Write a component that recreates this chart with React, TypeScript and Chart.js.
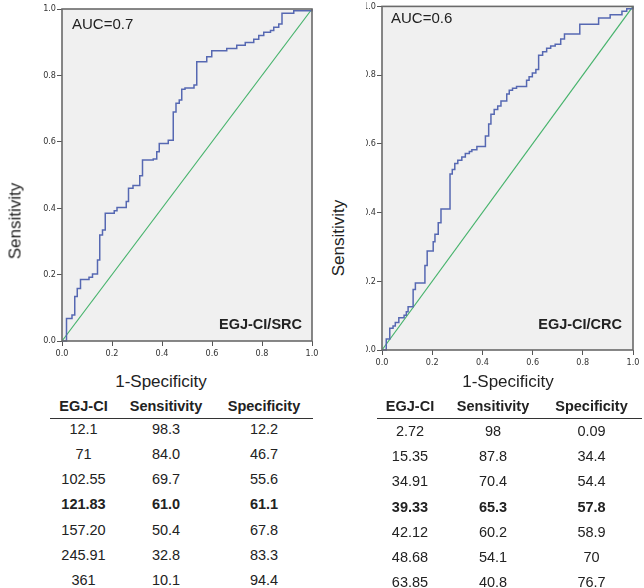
import React, { useEffect, useRef } from "react";
import { Chart, registerables } from "chart.js";

Chart.register(...registerables);

// ROC curve for EGJ-CI / SRC
const srcFpr = [0, 0.018, 0.04, 0.051, 0.061, 0.074, 0.108, 0.122, 0.142, 0.151, 0.162, 0.173, 0.209, 0.22, 0.257, 0.266, 0.284, 0.311, 0.322, 0.365, 0.379, 0.389, 0.425, 0.445, 0.456, 0.469, 0.479, 0.492, 0.528, 0.539, 0.579, 0.599, 0.659, 0.699, 0.733, 0.767, 0.787, 0.807, 0.834, 0.847, 0.867, 0.88, 0.927, 1.0];
const srcTpr = [0, 0.068, 0.078, 0.134, 0.158, 0.185, 0.192, 0.202, 0.244, 0.319, 0.334, 0.385, 0.392, 0.402, 0.42, 0.46, 0.468, 0.498, 0.545, 0.548, 0.57, 0.595, 0.605, 0.69, 0.716, 0.726, 0.758, 0.762, 0.771, 0.841, 0.856, 0.874, 0.881, 0.891, 0.899, 0.909, 0.92, 0.93, 0.935, 0.945, 0.955, 0.987, 0.995, 1.0];

// ROC curve for EGJ-CI / CRC
const crcFpr = [0, 0.017, 0.031, 0.044, 0.053, 0.067, 0.088, 0.097, 0.104, 0.124, 0.133, 0.171, 0.18, 0.204, 0.211, 0.224, 0.235, 0.271, 0.28, 0.29, 0.302, 0.318, 0.332, 0.348, 0.358, 0.378, 0.412, 0.425, 0.434, 0.447, 0.461, 0.474, 0.497, 0.507, 0.52, 0.536, 0.576, 0.586, 0.599, 0.613, 0.624, 0.64, 0.656, 0.672, 0.69, 0.712, 0.727, 0.788, 0.863, 0.909, 0.956, 0.975, 1.0];
const crcTpr = [0, 0.032, 0.063, 0.07, 0.08, 0.094, 0.101, 0.111, 0.126, 0.176, 0.195, 0.246, 0.288, 0.315, 0.337, 0.37, 0.41, 0.512, 0.525, 0.543, 0.552, 0.562, 0.572, 0.578, 0.583, 0.592, 0.623, 0.658, 0.686, 0.7, 0.71, 0.725, 0.745, 0.756, 0.762, 0.767, 0.785, 0.795, 0.806, 0.816, 0.858, 0.868, 0.878, 0.885, 0.89, 0.905, 0.92, 0.948, 0.966, 0.976, 0.986, 0.993, 1.0];

const refLine = [0, 1];
const axisTicks = [0, 0.2, 0.4, 0.6, 0.8, 1.0];

const srcAuc = "AUC=0.7";
const crcAuc = "AUC=0.6";
const srcName = "EGJ-CI/SRC";
const crcName = "EGJ-CI/CRC";
const xTitle = "1-Specificity";
const yTitle = "Sensitivity";

const tableHeaders = ["EGJ-CI", "Sensitivity", "Specificity"];
const srcCutoffs = ["12.1", "71", "102.55", "121.83", "157.20", "245.91", "361"];
const srcSens = ["98.3", "84.0", "69.7", "61.0", "50.4", "32.8", "10.1"];
const srcSpec = ["12.2", "46.7", "55.6", "61.1", "67.8", "83.3", "94.4"];
const crcCutoffs = ["2.72", "15.35", "34.91", "39.33", "42.12", "48.68", "63.85"];
const crcSens = ["98", "87.8", "70.4", "65.3", "60.2", "54.1", "40.8"];
const crcSpec = ["0.09", "34.4", "54.4", "57.8", "58.9", "70", "76.7"];
const srcBest = 3;
const crcBest = 3;

const TEXT = '"Liberation Sans", Arial, sans-serif';
const NARROW = '"Liberation Sans Narrow", "DejaVu Sans Condensed", sans-serif';

type RocProps = {
  fpr: number[];
  tpr: number[];
  auc: string;
  name: string;
  width: number;
  height: number;
  yAxisWidth: number;
  xAxisHeight: number;
  padTop: number;
  padRight: number;
  aucDx: number;
  aucDy: number;
  nameDx: number;
  nameDy: number;
  style: React.CSSProperties;
};

function RocChart(p: RocProps) {
  const ref = useRef<HTMLCanvasElement | null>(null);
  useEffect(() => {
    if (!ref.current) return;
    const decor = {
      id: "rocDecor",
      beforeDraw(chart: any) {
        const { ctx, chartArea: a } = chart;
        ctx.save();
        ctx.fillStyle = "#f0f0f0";
        ctx.fillRect(a.left, a.top, a.right - a.left, a.bottom - a.top);
        ctx.restore();
      },
      afterDraw(chart: any) {
        const { ctx, chartArea: a } = chart;
        ctx.save();
        ctx.strokeStyle = "#6a6a6a";
        ctx.lineWidth = 1.6;
        ctx.strokeRect(a.left, a.top, a.right - a.left, a.bottom - a.top);
        ctx.fillStyle = "#222";
        ctx.textBaseline = "middle";
        ctx.textAlign = "left";
        ctx.font = `15px ${TEXT}`;
        ctx.fillText(p.auc, a.left + p.aucDx, a.top + p.aucDy);
        ctx.textAlign = "right";
        ctx.font = `bold 14.5px ${TEXT}`;
        ctx.fillText(p.name, a.right - p.nameDx, a.bottom - p.nameDy);
        ctx.restore();
      },
    };
    const tickFont = { family: NARROW, size: 9 };
    const chart = new Chart(ref.current, {
      type: "line",
      data: {
        datasets: [
          {
            data: p.fpr.map((x, i) => ({ x, y: p.tpr[i] })),
            borderColor: "#5668b2",
            borderWidth: 1.5,
            pointRadius: 0,
            stepped: "before",
            fill: false,
            clip: 4,
          } as any,
          {
            data: refLine.map((v) => ({ x: v, y: v })),
            borderColor: "#46b36c",
            borderWidth: 1.2,
            pointRadius: 0,
            fill: false,
            clip: 4,
          } as any,
        ],
      },
      options: {
        animation: false,
        responsive: false,
        devicePixelRatio: 1,
        events: [],
        layout: { padding: { top: p.padTop, right: p.padRight, left: 0, bottom: 0 } },
        plugins: { legend: { display: false }, tooltip: { enabled: false }, title: { display: false } },
        scales: {
          x: {
            type: "linear",
            min: 0,
            max: 1,
            afterBuildTicks: (s: any) => {
              s.ticks = axisTicks.map((v) => ({ value: v }));
            },
            afterFit: (s: any) => {
              s.height = p.xAxisHeight;
            },
            ticks: {
              font: tickFont,
              color: "#333",
              padding: 2,
              maxRotation: 0,
              autoSkip: false,
              callback: (v: any) => Number(v).toFixed(1),
            },
            grid: { drawOnChartArea: false, drawTicks: true, tickLength: 5, color: "#555", tickWidth: 1 },
            border: { display: false },
          },
          y: {
            type: "linear",
            min: 0,
            max: 1,
            afterBuildTicks: (s: any) => {
              s.ticks = axisTicks.map((v) => ({ value: v }));
            },
            afterFit: (s: any) => {
              s.width = p.yAxisWidth;
            },
            ticks: {
              font: tickFont,
              color: "#333",
              padding: 1,
              autoSkip: false,
              callback: (v: any) => Number(v).toFixed(1),
            },
            grid: { drawOnChartArea: false, drawTicks: true, tickLength: 5, color: "#555", tickWidth: 1 },
            border: { display: false },
          },
        },
      } as any,
      plugins: [decor],
    });
    return () => chart.destroy();
  }, []);
  return (
    <canvas
      ref={ref}
      width={p.width}
      height={p.height}
      style={{ position: "absolute", width: p.width, height: p.height, ...p.style }}
    />
  );
}

type TableProps = {
  centers: number[];
  headerY: number;
  firstRowY: number;
  rowStep: number;
  cols: string[][];
  bold: number;
  lineX1: number;
  lineX2: number;
  lineY: number;
};

function StatTable(t: TableProps) {
  const cell = (text: string, cx: number, cy: number, bold: boolean, key: string) => (
    <div
      key={key}
      style={{
        position: "absolute",
        left: cx,
        top: cy,
        transform: "translate(-50%, -50%)",
        whiteSpace: "nowrap",
        fontSize: 14.5,
        lineHeight: 1,
        fontWeight: bold ? "bold" : "normal",
        color: "#222",
      }}
    >
      {text}
    </div>
  );
  const out: React.ReactNode[] = [];
  tableHeaders.forEach((h, c) => out.push(cell(h, t.centers[c], t.headerY, true, `h${c}`)));
  t.cols.forEach((col, c) =>
    col.forEach((v, r) => out.push(cell(v, t.centers[c], t.firstRowY + r * t.rowStep, r === t.bold, `c${c}r${r}`)))
  );
  out.push(
    <div
      key="line"
      style={{
        position: "absolute",
        left: t.lineX1,
        top: t.lineY - 0.75,
        width: t.lineX2 - t.lineX1,
        height: 1.5,
        background: "#333",
      }}
    />
  );
  return <>{out}</>;
}

function AxisTitle({ text, cx, cy, rotate }: { text: string; cx: number; cy: number; rotate?: boolean }) {
  return (
    <div
      style={{
        position: "absolute",
        left: cx,
        top: cy,
        transform: `translate(-50%, -50%)${rotate ? " rotate(-90deg)" : ""}`,
        whiteSpace: "nowrap",
        fontSize: 17,
        lineHeight: 1,
        color: "#222",
      }}
    >
      {text}
    </div>
  );
}

export default function App() {
  return (
    <div
      style={{
        position: "absolute",
        left: 0,
        top: 0,
        width: 644,
        height: 588,
        background: "#fff",
        overflow: "hidden",
        fontFamily: TEXT,
      }}
    >
      <RocChart
        fpr={srcFpr}
        tpr={srcTpr}
        auc={srcAuc}
        name={srcName}
        width={322}
        height={368}
        yAxisWidth={62}
        xAxisHeight={27}
        padTop={9}
        padRight={10}
        aucDx={10}
        aucDy={16}
        nameDx={10}
        nameDy={16}
        style={{ left: 0, top: 0 }}
      />
      <div style={{ position: "absolute", left: 366, top: 0, width: 278, height: 372, overflow: "hidden" }}>
        <RocChart
          fpr={crcFpr}
          tpr={crcTpr}
          auc={crcAuc}
          name={crcName}
          width={299}
          height={372}
          yAxisWidth={37}
          xAxisHeight={22}
          padTop={5}
          padRight={11}
          aucDx={9}
          aucDy={12}
          nameDx={11}
          nameDy={25}
          style={{ left: -21, top: 0 }}
        />
      </div>
      <AxisTitle text={yTitle} cx={14.5} cy={221} rotate />
      <AxisTitle text={yTitle} cx={338} cy={238} rotate />
      <AxisTitle text={xTitle} cx={161} cy={381} />
      <AxisTitle text={xTitle} cx={508} cy={381} />
      <StatTable
        centers={[83.5, 166, 264]}
        headerY={406}
        firstRowY={429}
        rowStep={25.15}
        cols={[srcCutoffs, srcSens, srcSpec]}
        bold={srcBest}
        lineX1={50}
        lineX2={313}
        lineY={418.5}
      />
      <StatTable
        centers={[410, 493, 591.5]}
        headerY={406}
        firstRowY={431}
        rowStep={25.2}
        cols={[crcCutoffs, crcSens, crcSpec]}
        bold={crcBest}
        lineX1={377}
        lineX2={642}
        lineY={418.5}
      />
    </div>
  );
}
